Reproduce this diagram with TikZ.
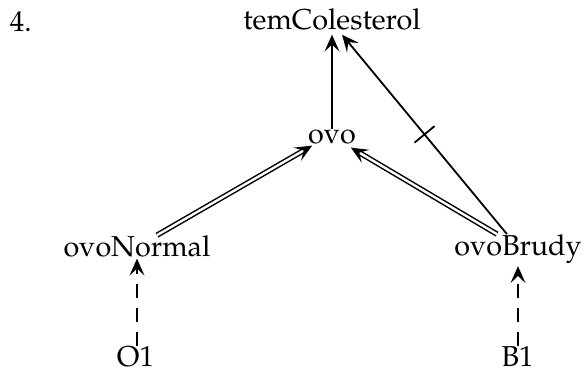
\documentclass[tikz,border=0pt]{standalone}
\usepackage[T1]{fontenc}
\usepackage{mathpazo}
\usetikzlibrary{arrows.meta,calc}
\begin{document}
\begin{tikzpicture}[x=0.5pt,y=-0.5pt,
  lbl/.style={inner sep=0pt, outer sep=0pt, font=\fontsize{14.4pt}{17pt}\selectfont},
  tip/.style={-{Stealth[length=8.5pt,width=7.5pt,inset=3.6pt]}},
  arr/.style={tip, line width=0.9pt},
  dbl/.style={tip, line width=0.75pt, double, double distance=1.2pt},
  dsh/.style={tip, line width=0.9pt, dash pattern=on 7pt off 5pt}]
\useasboundingbox (0,0) rectangle (584,372);
\node[lbl, anchor=base west] (num) at (10,31) {4.};
\node[lbl, anchor=base] (temC) at (332,29) {temColesterol};
\node[lbl, anchor=base] (ovo) at (332,143) {ovo};
\node[lbl, anchor=base] (ovoN) at (137,256) {ovoNormal};
\node[lbl, anchor=base] (ovoB) at (518,255) {ovoBrudy};
\node[lbl, anchor=base] (O1) at (135.5,366) {O1};
\node[lbl, anchor=base] (B1) at (517.5,366) {B1};
% connectors
\draw[arr] (ovo.north) -- ($(temC.south)+(0,5)$);
\coordinate (bs) at ($(ovoB.north)+(-11,0)$);
\coordinate (bt) at ($(temC.south)+(10,5)$);
\draw[arr] (bs) -- (bt);
\coordinate (bm) at ($(bs)!0.5!(bt)$);
\draw[line width=0.9pt] ($(bm)!6.5pt!90:(bt)$) -- ($(bm)!6.5pt!-90:(bt)$);
\draw[dbl] ($(ovoN.north)+(20,0)$) -- ($(ovo.south west)+(4,2)$);
\draw[dbl] ($(ovoB.north)+(-21,0)$) -- ($(ovo.south east)+(-5,4)$);
\draw[dsh] (O1.north -| ovoN.south) -- ($(ovoN.south)+(0,2)$);
\draw[dsh] (B1.north -| ovoB.south) -- ($(ovoB.south)+(0,3)$);
\end{tikzpicture}
\end{document}
